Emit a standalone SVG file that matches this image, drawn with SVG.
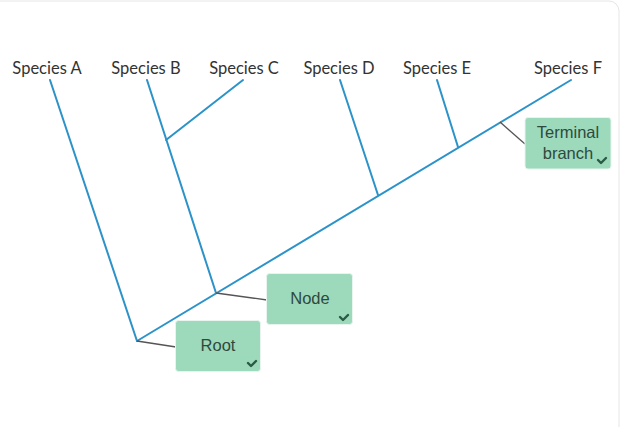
<svg xmlns="http://www.w3.org/2000/svg" width="633" height="427" viewBox="0 0 633 427">
<style>
.card{fill:#ffffff;stroke:#e6e6e6;stroke-width:1}
.sp{font-family:Lato,"Noto Sans",sans-serif;font-size:16.5px;fill:#333333;text-anchor:middle}
.br{stroke:#2b93c9;stroke-width:2;fill:none;stroke-linecap:round}
.lead{stroke:#555555;stroke-width:1.3;fill:none}
.box{fill:#9dd9bb;stroke:#e8f5ee;stroke-width:1}
.bt{font-family:"Liberation Sans",Arial,sans-serif;font-size:16.5px;fill:#2e4a3e;text-anchor:middle}
.chk{fill:none;stroke:#2a5a45;stroke-width:2.4;stroke-linecap:round;stroke-linejoin:round}
</style>
<rect class="card" x="-10" y="1" width="629" height="440" rx="10"/>
<g id="labels">
<text class="sp" x="47" y="74">Species A</text>
<text class="sp" x="146" y="74">Species B</text>
<text class="sp" x="244" y="74">Species C</text>
<text class="sp" x="339" y="74">Species D</text>
<text class="sp" x="437" y="74">Species E</text>
<text class="sp" x="568" y="74">Species F</text>
</g>
<g id="connectors">
<line class="br" x1="50" y1="80" x2="137" y2="341"/>
<line class="br" x1="137" y1="341" x2="571" y2="80"/>
<line class="br" x1="147" y1="80" x2="216" y2="293"/>
<line class="br" x1="166" y1="140" x2="243" y2="80"/>
<line class="br" x1="340" y1="80" x2="378" y2="195"/>
<line class="br" x1="437" y1="80" x2="458" y2="147"/>
<line class="lead" x1="137" y1="341" x2="176" y2="347"/>
<line class="lead" x1="216" y1="293" x2="267" y2="300"/>
<line class="lead" x1="500" y1="122" x2="525" y2="144"/>
</g>
<g id="root">
<rect class="box" x="175.5" y="320.5" width="85" height="51" rx="3"/>
<text class="bt" x="218" y="351">Root</text>
<path class="chk" d="M248 363 l3 3 l5 -5"/>
</g>
<g id="node">
<rect class="box" x="266.5" y="273.5" width="86" height="51" rx="3"/>
<text class="bt" x="310" y="304">Node</text>
<path class="chk" d="M340 317 l3 3 l5 -5"/>
</g>
<g id="terminal">
<rect class="box" x="525" y="117.5" width="86" height="51.5" rx="3"/>
<text class="bt" x="568" y="138">Terminal</text>
<text class="bt" x="568" y="159">branch</text>
<path class="chk" d="M598 160 l3 3 l5 -5"/>
</g>
</svg>
